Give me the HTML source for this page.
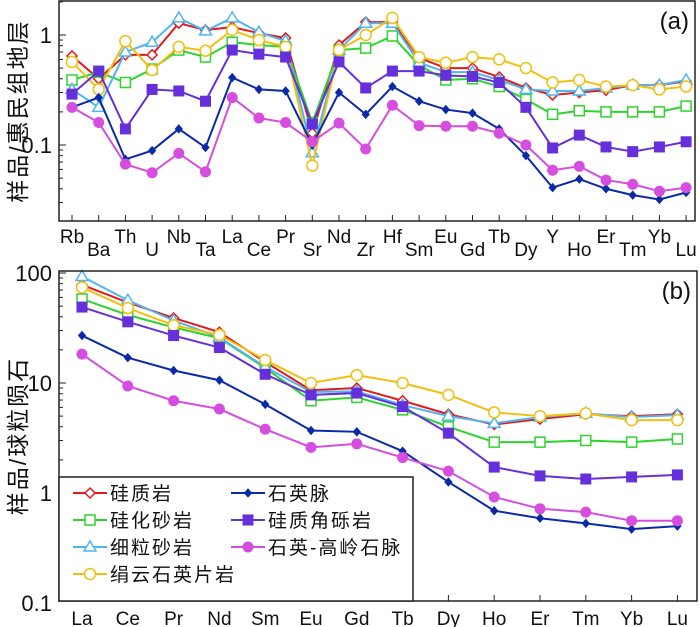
<!DOCTYPE html>
<html><head><meta charset="utf-8">
<style>
html,body{margin:0;padding:0;background:#fff;}
svg{display:block;}
text{font-family:"Liberation Sans","Noto Sans CJK SC",sans-serif;}
</style></head>
<body>
<svg id="chart" width="700" height="627" viewBox="0 0 700 627" xmlns="http://www.w3.org/2000/svg"></svg>
<script>
// ---- Panel (a) data: normalized to Huimin Formation strata ----
const elemsA = ["Rb","Ba","Th","U","Nb","Ta","La","Ce","Pr","Sr","Nd","Zr","Hf","Sm","Eu","Gd","Tb","Dy","Y","Ho","Er","Tm","Yb","Lu"];
const aSiliceous = [0.645,0.40,0.66,0.66,1.28,1.11,1.18,1.04,0.94,0.128,0.81,1.31,1.31,0.62,0.50,0.50,0.415,0.33,0.285,0.30,0.315,0.35,0.35,0.38];
const aSilicifiedSand = [0.39,0.46,0.37,0.49,0.73,0.63,0.86,0.81,0.78,0.16,0.73,0.76,0.98,0.53,0.39,0.40,0.34,0.26,0.19,0.205,0.20,0.20,0.20,0.226];
const aFineSand = [0.32,0.22,0.70,0.86,1.43,1.09,1.43,1.06,0.88,0.085,0.73,1.28,1.28,0.56,0.46,0.46,0.39,0.32,0.31,0.31,0.33,0.35,0.35,0.39];
const aSericite = [0.57,0.32,0.88,0.48,0.78,0.72,1.11,0.90,0.78,0.065,0.73,1.0,1.43,0.63,0.56,0.63,0.60,0.50,0.37,0.39,0.34,0.35,0.32,0.34];
const aBreccia = [0.29,0.47,0.14,0.32,0.31,0.25,0.73,0.67,0.63,0.155,0.57,0.33,0.47,0.47,0.43,0.42,0.37,0.22,0.094,0.123,0.096,0.087,0.096,0.107];
const aQuartzVein = [0.22,0.27,0.074,0.089,0.14,0.095,0.41,0.32,0.31,0.10,0.30,0.19,0.34,0.25,0.21,0.195,0.14,0.08,0.041,0.049,0.04,0.035,0.032,0.037];
const aKaolinVein = [0.22,0.16,0.067,0.056,0.084,0.057,0.27,0.176,0.16,0.107,0.158,0.092,0.23,0.15,0.148,0.148,0.128,0.10,0.059,0.064,0.048,0.044,0.038,0.041];
const ticksA = [1,0.1];
const tickLabelsA = ["1","0.1"];

// ---- Panel (b) data: chondrite-normalized REE ----
const elemsB = ["La","Ce","Pr","Nd","Sm","Eu","Gd","Tb","Dy","Ho","Er","Tm","Yb","Lu"];
const bSiliceous = [78,54,39,29,15.5,8.6,9.0,6.9,5.2,4.2,4.7,5.2,5.0,5.2];
const bSilicifiedSand = [58,41.5,32,25.6,13.7,6.9,7.4,5.7,4.0,2.9,2.9,3.0,2.9,3.1];
const bFineSand = [93,56.5,37,26,14,8.3,8.4,6.3,5.0,4.3,4.9,5.3,4.9,5.1];
const bSericite = [74,48,33.5,27.3,16.2,10,11.8,10,7.8,5.4,5.0,5.3,4.6,4.6];
const bBreccia = [49,36,27,21,12,7.8,8.1,6.1,3.5,1.72,1.43,1.34,1.4,1.46];
const bQuartzVein = [27,17,13,10.6,6.4,3.7,3.6,2.4,1.26,0.69,0.59,0.53,0.47,0.50];
const bKaolinVein = [18.3,9.4,6.9,5.8,3.8,2.6,2.8,2.1,1.58,0.92,0.72,0.67,0.56,0.56];
const ticksB = [100,10,1,0.1];
const tickLabelsB = ["100","10","1","0.1"];

const seriesNames = ["硅质岩","硅化砂岩","细粒砂岩","绢云石英片岩","石英脉","硅质角砾岩","石英-高岭石脉"];
const seriesColors = ["#e31a1c","#2ed42e","#4eb6ee","#f0c010","#0a2aa8","#6530dc","#d54ee0"];
const seriesMarkers = ["diamond-open","square-open","triangle-open","circle-open","diamond-filled","square-filled","circle-filled"];
const seriesKeys = ["siliceous","silicified-sandstone","fine-sandstone","sericite-schist","quartz-vein","siliceous-breccia","quartz-kaolinite-vein"];

const NS="http://www.w3.org/2000/svg";
const svg=document.getElementById('chart');
function mk(tag,attrs,parent){const e=document.createElementNS(NS,tag);for(const k in attrs)e.setAttribute(k,attrs[k]);(parent||svg).appendChild(e);return e;}

function marker(g,type,x,y,c){
  let e;
  if(type==="diamond-open"){e=mk('polygon',{points:`${x},${y-5} ${x+5},${y} ${x},${y+5} ${x-5},${y}`,fill:'#fff',stroke:c,'stroke-width':1.5},g);}
  else if(type==="diamond-filled"){e=mk('polygon',{points:`${x},${y-4} ${x+3.5},${y} ${x},${y+4} ${x-3.5},${y}`,fill:c,stroke:c,'stroke-width':1},g);}
  else if(type==="square-open"){e=mk('rect',{x:x-5,y:y-5,width:10,height:10,fill:'#fff',stroke:c,'stroke-width':1.5},g);}
  else if(type==="square-filled"){e=mk('rect',{x:x-5.5,y:y-5.5,width:11,height:11,fill:c},g);}
  else if(type==="triangle-open"){e=mk('polygon',{points:`${x},${y-6} ${x+6},${y+4} ${x-6},${y+4}`,fill:'#fff',stroke:c,'stroke-width':1.5},g);}
  else if(type==="circle-open"){e=mk('circle',{cx:x,cy:y,r:5.5,fill:'#fff',stroke:c,'stroke-width':1.5},g);}
  else {e=mk('circle',{cx:x,cy:y,r:5.5,fill:c},g);}
  return e;
}

function panel(cfg){
  const {left,right,top,bottom,yOne,decade,x0,dx,elems,data,ticks,tickLabels,title,label,panelId,stagger,yMin,yMax}=cfg;
  const g=mk('g',{});
  
  
  const yS=v=>yOne-decade*Math.log10(v);
  const xS=i=>x0+i*dx;
  // minor & major ticks
  for(let d=Math.floor(Math.log10(yMin));d<=Math.ceil(Math.log10(yMax));d++){
    for(let m=1;m<=9;m++){
      const v=m*Math.pow(10,d); const y=yS(v);
      if(y<top||y>bottom)continue;
      mk('line',{x1:left,x2:left+(m===1?7:4),y1:y,y2:y,stroke:'#222','stroke-width':1},g);
    }
  }
  ticks.forEach((t,i)=>{
    const tx=mk('text',{x:left-7,y:yS(t)+8,'text-anchor':'end','font-size':22,fill:'#111'},g);
    tx.textContent=tickLabels[i];
    
    
  });
  elems.forEach((el,i)=>{
    mk('line',{x1:xS(i),x2:xS(i),y1:bottom,y2:bottom-6,stroke:'#222','stroke-width':1},g);
    const ly = stagger ? (i%2===0?bottom+22:bottom+35) : bottom+24;
    const tx=mk('text',{x:xS(i),y:ly,'text-anchor':'middle','font-size':19,fill:'#111'},g);
    tx.textContent=el;
    
    
  });
  data.forEach((arr,s)=>{
    const sg=mk('g',{},g);
    
    
    const pts=arr.map((v,i)=>xS(i)+','+yS(v)).join(' ');
    mk('polyline',{points:pts,fill:'none',stroke:seriesColors[s],'stroke-width':2},sg);
    arr.forEach((v,i)=>{
      const m=marker(sg,seriesMarkers[s],xS(i),yS(v),seriesColors[s]);
      
      
    });
  });
  const box=mk('rect',{x:left,y:top,width:right-left,height:bottom-top,fill:'none',stroke:'#222','stroke-width':1.5},g);
  
  
  const lab=mk('text',{x:right-6,y:top+28,'text-anchor':'end','font-size':24,fill:'#111','font-family':'Liberation Serif, serif'},g);
  lab.textContent=label;
  
  
  const cy=(top+bottom)/2;
  const yt=mk('text',{x:0,y:0,'text-anchor':'middle','font-size':23,fill:'#111',transform:`translate(26,${cy}) rotate(-90)`,'letter-spacing':'2'},g);
  yt.textContent=title;
  
  
  return {xS,yS,g};
}

panel({left:59,right:695,top:1,bottom:221,yOne:35,decade:110,x0:72,dx:26.7,elems:elemsA,
  data:[aSiliceous,aSilicifiedSand,aFineSand,aSericite,aQuartzVein,aBreccia,aKaolinVein],
  ticks:ticksA,tickLabels:tickLabelsA,title:"样品/惠民组地层",label:"(a)",panelId:'a',stagger:true,yMin:0.02,yMax:2});

const pb=panel({left:59,right:697,top:271,bottom:601,yOne:493,decade:110,x0:82,dx:45.8,elems:elemsB,
  data:[bSiliceous,bSilicifiedSand,bFineSand,bSericite,bQuartzVein,bBreccia,bKaolinVein],
  ticks:ticksB,tickLabels:tickLabelsB,title:"样品/球粒陨石",label:"(b)",panelId:'b',stagger:false,yMin:0.1,yMax:110});

// legend
const lg=mk('g',{});


mk('rect',{x:59,y:477,width:354,height:124,fill:'#fff',stroke:'#222','stroke-width':1.5},lg);
const legendPos=[[0,0],[0,1],[0,2],[0,3],[1,0],[1,1],[1,2]];
seriesNames.forEach((n,s)=>{
  const cx=legendPos[s][0]?231:73, cy=493+legendPos[s][1]*27;
  const e=mk('g',{},lg);
  
  
  mk('line',{x1:cx,x2:cx+34,y1:cy,y2:cy,stroke:seriesColors[s],'stroke-width':2},e);
  marker(e,seriesMarkers[s],cx+17,cy,seriesColors[s]);
  const t=mk('text',{x:cx+37,y:cy+7,'font-size':19,fill:'#111','letter-spacing':'2'},e);
  t.textContent=n;
});
</script>
</body></html>
